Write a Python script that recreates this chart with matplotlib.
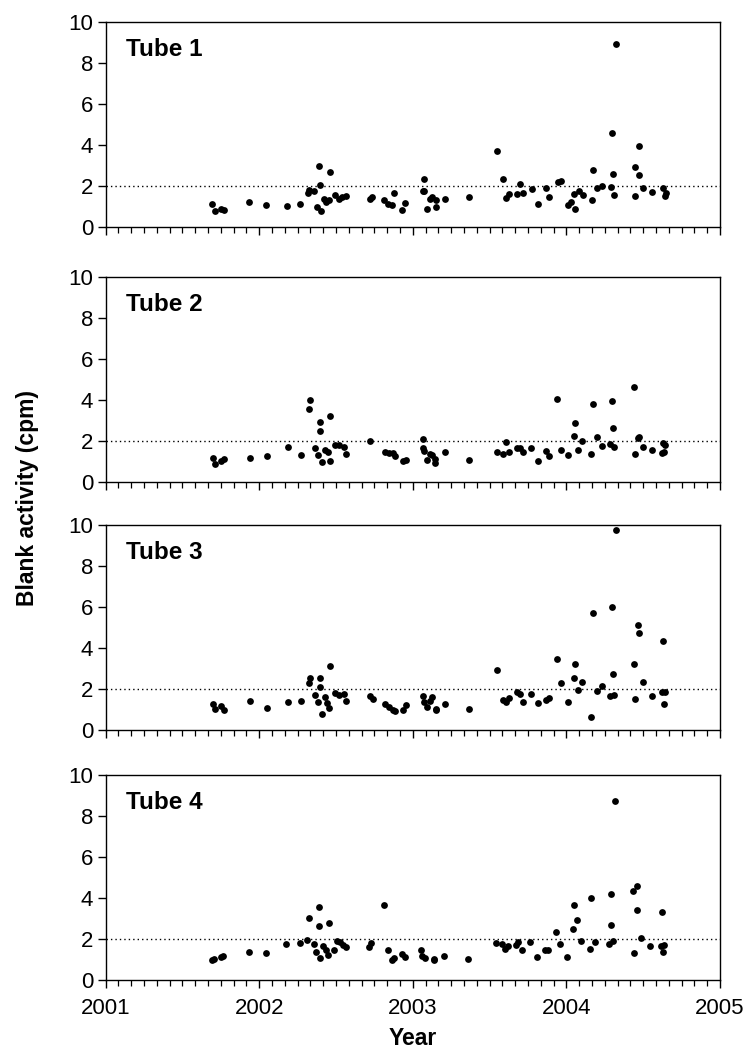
import matplotlib
matplotlib.use("Agg")
import matplotlib.pyplot as plt
from matplotlib.ticker import MultipleLocator

plt.rcParams['font.family'] = ['Liberation Sans', 'DejaVu Sans']

panel_titles = ["Tube 1", "Tube 2", "Tube 3", "Tube 4"]
x_ticks = [2001, 2002, 2003, 2004, 2005]
y_ticks = [0, 2, 4, 6, 8, 10]
reference_level = 2

tube1_year = [2001.695, 2001.710, 2001.755, 2001.771, 2001.937, 2002.048, 2002.182, 2002.268,
              2002.318, 2002.327, 2002.359, 2002.377, 2002.392, 2002.396, 2002.403, 2002.420,
              2002.437, 2002.452, 2002.459, 2002.494, 2002.522, 2002.539, 2002.563, 2002.721,
              2002.736, 2002.812, 2002.842, 2002.868, 2002.881, 2002.933, 2002.950,
              2003.070, 2003.064, 2003.075, 2003.092, 2003.114, 2003.127, 2003.149, 2003.149,
              2003.210, 2003.368, 2003.550, 2003.588, 2003.609, 2003.629, 2003.681, 2003.698,
              2003.718, 2003.774, 2003.816, 2003.868, 2003.887, 2003.943, 2003.967, 2004.013,
              2004.033, 2004.050, 2004.059, 2004.080, 2004.106, 2004.165, 2004.174, 2004.200,
              2004.230, 2004.289, 2004.300, 2004.304, 2004.313, 2004.326, 2004.445, 2004.449,
              2004.471, 2004.473, 2004.500, 2004.558, 2004.627, 2004.640, 2004.647]
tube1_cpm = [1.13, 0.78, 0.88, 0.83, 1.22, 1.05, 1.02, 1.10,
             1.62, 1.80, 1.72, 0.97, 2.97, 2.01, 0.75, 1.33,
             1.22, 1.28, 2.69, 1.54, 1.33, 1.46, 1.52, 1.36,
             1.46, 1.31, 1.12, 1.04, 1.64, 0.83, 1.18,
             2.35, 1.74, 1.74, 0.86, 1.33, 1.44, 1.28, 0.94,
             1.33, 1.43, 3.67, 2.34, 1.38, 1.59, 1.61, 2.08,
             1.62, 1.85, 1.12, 1.90, 1.43, 2.19, 2.25, 1.04,
             1.22, 1.61, 0.86, 1.75, 1.57, 1.31, 2.79, 1.88,
             2.00, 1.93, 4.56, 2.58, 1.56, 8.89, 2.89, 1.52,
             3.96, 2.53, 1.88, 1.67, 1.90, 1.52, 1.64]

tube2_year = [2001.699, 2001.716, 2001.755, 2001.774, 2001.941, 2002.052, 2002.187, 2002.273,
              2002.323, 2002.332, 2002.364, 2002.382, 2002.397, 2002.399, 2002.408, 2002.427,
              2002.447, 2002.460, 2002.460, 2002.496, 2002.522, 2002.551, 2002.568, 2002.724,
              2002.820, 2002.844, 2002.872, 2002.883, 2002.937, 2002.954,
              2003.069, 2003.065, 2003.074, 2003.093, 2003.113, 2003.128, 2003.143, 2003.147,
              2003.208, 2003.366, 2003.548, 2003.586, 2003.607, 2003.627, 2003.679, 2003.696,
              2003.716, 2003.772, 2003.813, 2003.865, 2003.885, 2003.941, 2003.965, 2004.010,
              2004.047, 2004.056, 2004.077, 2004.103, 2004.162, 2004.171, 2004.197, 2004.230,
              2004.286, 2004.297, 2004.301, 2004.310, 2004.442, 2004.446, 2004.464, 2004.470,
              2004.496, 2004.555, 2004.624, 2004.630, 2004.637, 2004.643]
tube2_cpm = [1.17, 0.84, 1.02, 1.12, 1.17, 1.25, 1.70, 1.29,
             3.53, 3.98, 1.62, 1.29, 2.93, 2.49, 0.94, 1.57,
             1.44, 3.22, 1.02, 1.81, 1.81, 1.67, 1.34, 1.99,
             1.44, 1.39, 1.41, 1.26, 1.03, 1.05,
             2.10, 1.62, 1.49, 1.07, 1.34, 1.31, 1.13, 0.91,
             1.44, 1.07, 1.44, 1.34, 1.96, 1.46, 1.65, 1.62,
             1.44, 1.65, 1.02, 1.49, 1.26, 4.01, 1.54, 1.31,
             2.22, 2.88, 1.54, 1.99, 1.33, 3.77, 2.17, 1.73,
             1.86, 3.96, 2.61, 1.70, 4.63, 1.34, 2.12, 2.18,
             1.67, 1.55, 1.42, 1.89, 1.47, 1.78]

tube3_year = [2001.699, 2001.714, 2001.755, 2001.774, 2001.941, 2002.052, 2002.187, 2002.273,
              2002.323, 2002.332, 2002.364, 2002.382, 2002.395, 2002.399, 2002.408, 2002.427,
              2002.442, 2002.457, 2002.462, 2002.496, 2002.522, 2002.551, 2002.568, 2002.724,
              2002.740, 2002.820, 2002.844, 2002.870, 2002.885, 2002.937, 2002.954,
              2003.065, 2003.072, 2003.091, 2003.113, 2003.128, 2003.150, 2003.152, 2003.208,
              2003.366, 2003.548, 2003.586, 2003.607, 2003.627, 2003.679, 2003.698, 2003.716,
              2003.772, 2003.813, 2003.865, 2003.885, 2003.941, 2003.965, 2004.010, 2004.047,
              2004.056, 2004.077, 2004.103, 2004.162, 2004.171, 2004.197, 2004.230, 2004.286,
              2004.297, 2004.301, 2004.310, 2004.323, 2004.442, 2004.446, 2004.468, 2004.470,
              2004.496, 2004.555, 2004.624, 2004.630, 2004.637, 2004.643]
tube3_cpm = [1.24, 1.00, 1.15, 0.94, 1.39, 1.05, 1.34, 1.42,
             2.27, 2.51, 1.68, 1.34, 2.53, 2.07, 0.77, 1.59,
             1.28, 1.08, 3.10, 1.81, 1.67, 1.72, 1.39, 1.62,
             1.52, 1.24, 1.10, 0.97, 0.92, 0.95, 1.20,
             1.62, 1.37, 1.10, 1.39, 1.59, 1.02, 0.97, 1.26,
             1.03, 2.92, 1.46, 1.34, 1.57, 1.85, 1.76, 1.33,
             1.75, 1.28, 1.47, 1.55, 3.44, 2.28, 1.34, 2.54,
             3.21, 1.96, 2.32, 0.61, 5.67, 1.89, 2.12, 1.62,
             5.98, 2.72, 1.68, 9.75, 3.21, 1.50, 5.11, 4.71,
             2.33, 1.65, 1.85, 4.33, 1.26, 1.86]

tube4_year = [2001.690, 2001.705, 2001.751, 2001.768, 2001.933, 2002.044, 2002.178, 2002.265,
              2002.314, 2002.323, 2002.356, 2002.371, 2002.388, 2002.390, 2002.399, 2002.418,
              2002.434, 2002.449, 2002.453, 2002.488, 2002.507, 2002.525, 2002.549, 2002.564,
              2002.714, 2002.729, 2002.811, 2002.837, 2002.865, 2002.876, 2002.928, 2002.948,
              2003.056, 2003.062, 2003.082, 2003.139, 2003.141, 2003.202, 2003.360, 2003.540,
              2003.579, 2003.601, 2003.618, 2003.672, 2003.687, 2003.709, 2003.763, 2003.807,
              2003.859, 2003.878, 2003.932, 2003.956, 2004.002, 2004.041, 2004.047, 2004.071,
              2004.095, 2004.154, 2004.162, 2004.188, 2004.277, 2004.288, 2004.292, 2004.301,
              2004.314, 2004.435, 2004.437, 2004.461, 2004.459, 2004.487, 2004.544, 2004.616,
              2004.624, 2004.630, 2004.637]
tube4_cpm = [0.96, 0.99, 1.09, 1.18, 1.36, 1.31, 1.75, 1.78,
             1.93, 3.00, 1.72, 1.36, 3.53, 2.61, 1.05, 1.65,
             1.44, 1.20, 2.77, 1.47, 1.89, 1.83, 1.67, 1.60,
             1.60, 1.78, 3.63, 1.43, 0.94, 1.04, 1.23, 1.12,
             1.43, 1.18, 1.04, 1.02, 0.96, 1.15, 1.02, 1.80,
             1.73, 1.50, 1.64, 1.67, 1.86, 1.46, 1.83, 1.12,
             1.46, 1.43, 2.33, 1.72, 1.12, 2.49, 3.64, 2.90,
             1.89, 1.50, 4.00, 1.86, 1.73, 4.19, 2.69, 1.91,
             8.72, 4.35, 1.31, 4.58, 3.42, 2.04, 1.62, 1.65,
             3.29, 1.36, 1.70]

years = [tube1_year, tube2_year, tube3_year, tube4_year]
values = [tube1_cpm, tube2_cpm, tube3_cpm, tube4_cpm]

W, H = 752, 1056
fig = plt.figure(figsize=(W / 100, H / 100), dpi=100)

left = 105.5 / W
width = (720 - 105.5) / W
tops = [21.7, 276.7, 524.7, 774.7]
ph = 205.0

for i in range(4):
    bottom = 1 - (tops[i] + ph) / H
    ax = fig.add_axes([left, bottom, width, ph / H])
    ax.scatter(years[i], values[i], s=24, color='black', linewidths=0, zorder=3)
    ax.axhline(reference_level, color='black', linestyle=(0, (1, 2.2)), linewidth=1.0, zorder=2)
    ax.set_xlim(x_ticks[0], x_ticks[-1])
    ax.set_ylim(y_ticks[0], y_ticks[-1])
    ax.set_xticks(x_ticks)
    ax.set_yticks(y_ticks)
    ax.xaxis.set_minor_locator(MultipleLocator(1 / 12))
    ax.tick_params(axis='both', which='major', direction='out', length=6, width=1.0,
                   labelsize=16, color='black')
    ax.tick_params(axis='y', which='major', pad=3)
    ax.tick_params(axis='x', which='major', pad=7)
    ax.tick_params(axis='x', which='minor', direction='out', length=4, width=0.9)
    for sp in ax.spines.values():
        sp.set_linewidth(1.0)
        sp.set_color('black')
    if i < 3:
        ax.tick_params(axis='x', labelbottom=False)
    else:
        ax.set_xlabel("Year", fontsize=16.5, fontweight='bold', labelpad=6)
    ax.text(0.033, 0.865, panel_titles[i], transform=ax.transAxes, fontsize=17.5,
            fontweight='bold', va='center', ha='left')

fig.text(27.5 / W, 1 - 498 / H, "Blank activity (cpm)", rotation=90, fontsize=16.5,
         fontweight='bold', va='center', ha='center')

fig.savefig("out.png", dpi=100)
